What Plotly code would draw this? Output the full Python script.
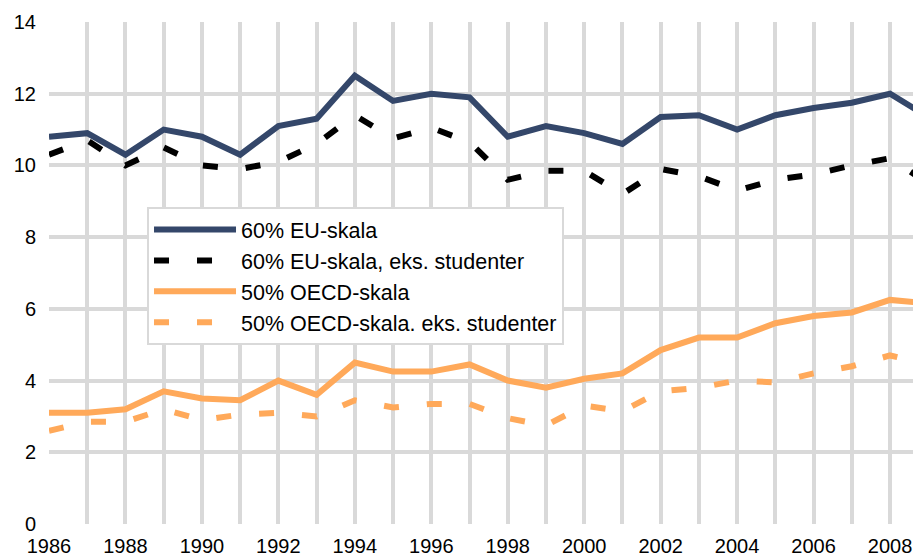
import plotly.graph_objects as go

years = list(range(1986, 2010))
eu_60 = [10.8, 10.9, 10.3, 11.0, 10.8, 10.3, 11.1, 11.3, 12.5, 11.8, 12.0, 11.9,
         10.8, 11.1, 10.9, 10.6, 11.35, 11.4, 11.0, 11.4, 11.6, 11.75, 12.0, 11.35]
eu_60_eks = [10.3, 10.7, 10.0, 10.5, 10.0, 9.9, 10.1, 10.6, 11.4, 10.75, 11.05, 10.65,
             9.6, 9.85, 9.85, 9.2, 9.9, 9.7, 9.3, 9.6, 9.75, 10.0, 10.2, 9.5]
oecd_50 = [3.1, 3.1, 3.2, 3.7, 3.5, 3.45, 4.0, 3.6, 4.5, 4.25, 4.25, 4.45,
           4.0, 3.8, 4.05, 4.2, 4.85, 5.2, 5.2, 5.6, 5.8, 5.9, 6.25, 6.15]
oecd_50_eks = [2.6, 2.85, 2.85, 3.2, 2.9, 3.05, 3.1, 3.0, 3.45, 3.25, 3.35, 3.35,
               2.95, 2.75, 3.3, 3.15, 3.7, 3.8, 4.0, 3.95, 4.2, 4.4, 4.7, 4.45]
names = ["60% EU-skala", "60% EU-skala, eks. studenter",
         "50% OECD-skala", "50% OECD-skala. eks. studenter"]

NAVY = "#34476A"
ORANGE = "#FFA95A"
GRID = "#D9D9D9"
FONT = "Liberation Sans, Arial, sans-serif"

fig = go.Figure()
fig.add_trace(go.Scatter(x=years, y=eu_60, name=names[0], mode="lines",
                         line=dict(color=NAVY, width=6)))
fig.add_trace(go.Scatter(x=years, y=eu_60_eks, name=names[1], mode="lines",
                         line=dict(color="black", width=6, dash="15px,28px")))
fig.add_trace(go.Scatter(x=years, y=oecd_50, name=names[2], mode="lines",
                         line=dict(color=ORANGE, width=6)))
fig.add_trace(go.Scatter(x=years, y=oecd_50_eks, name=names[3], mode="lines",
                         line=dict(color=ORANGE, width=6, dash="15px,28px")))

fig.update_layout(
    width=921, height=558,
    margin=dict(l=41, r=8, t=14, b=42),
    plot_bgcolor="white", paper_bgcolor="white",
    font=dict(family=FONT, size=20, color="black"),
    showlegend=True,
    legend=dict(x=0.1124, y=0.6315, xanchor="left", yanchor="top",
                bgcolor="white", bordercolor=GRID, borderwidth=2,
                font=dict(family=FONT, size=21.5, color="black"),
                itemwidth=82, tracegroupgap=0),
)
fig.update_xaxes(
    range=[1986, 2008.81], dtick=2, tick0=1986, showgrid=True, automargin=False,
    gridcolor=GRID, gridwidth=4, zeroline=False, showline=False,
    ticks="", ticklen=0, ticklabelstandoff=8,
    minor=dict(dtick=1, tick0=1986, showgrid=True, gridcolor=GRID, gridwidth=4),
    tickfont=dict(family=FONT, size=20, color="black"),
)
fig.update_yaxes(
    range=[0, 14], dtick=2, showgrid=True, gridcolor=GRID, gridwidth=4,
    zeroline=False, showline=False, ticks="", ticklabelstandoff=12, automargin=False,
    tickfont=dict(family=FONT, size=20, color="black"),
)

fig.write_html("out.html")
